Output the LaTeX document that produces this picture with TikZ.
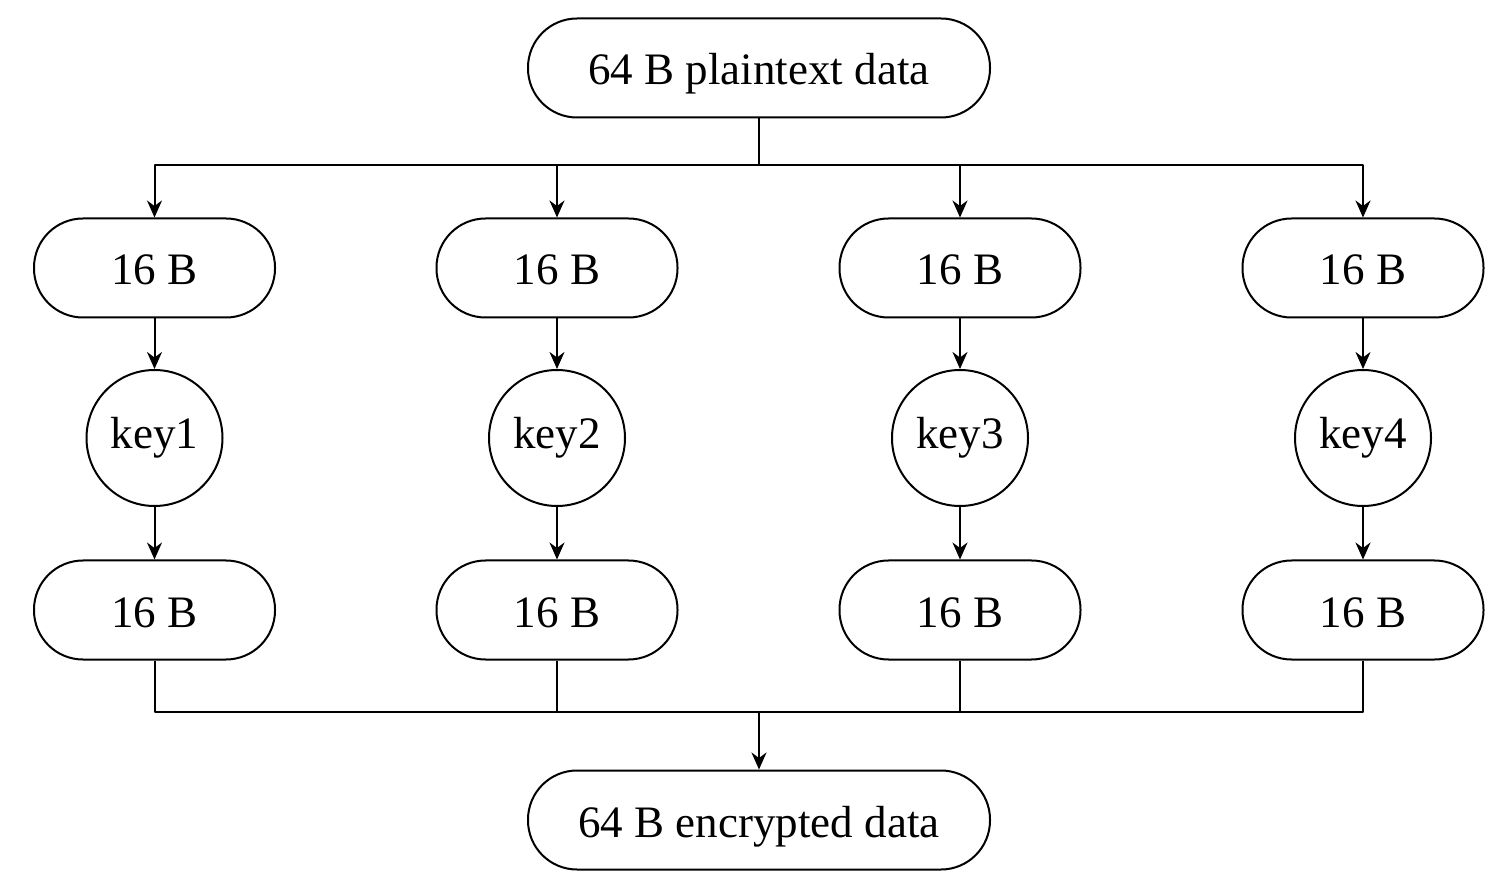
\documentclass[tikz,border=0pt]{standalone}
\usepackage{fontspec}
\setmainfont{Liberation Serif}
\usetikzlibrary{arrows.meta}
\begin{document}
\begin{tikzpicture}[>={Stealth[length=8.5pt,width=7.5pt]},line join=round,x=0.5pt,y=-0.5pt,line width=1pt,
    font=\fontsize{22.5}{27}\selectfont,
    pill/.style={draw,rounded corners=24.5pt,minimum height=49.5pt,inner sep=0pt,text height=17pt,text depth=0pt},
    keynode/.style={draw,circle,minimum size=68pt,inner sep=0pt}]
    \useasboundingbox (0,0) rectangle (1500,887);
    % top and bottom
    \node[pill,minimum width=231pt] (plain) at (759,68) {64 B plaintext data};
    \node[pill,minimum width=231pt] (enc) at (759,820) {64 B encrypted data};
    \coordinate (split) at (759,165);
    \coordinate (join) at (759,712);
    \draw (plain.south) -- (split);
    \draw[->] (join) -- (enc.north);
    % four branches
    \foreach \i/\x in {1/154.5,2/557,3/960,4/1363}{
        \node[pill,minimum width=120.5pt] (in\i) at (\x,268) {16 B};
        \node[keynode] (key\i) at (\x,438) {key\i};
        \node[pill,minimum width=120.5pt] (out\i) at (\x,610) {16 B};
        \draw[->] (split) -| (in\i.north);
        \draw[->] (in\i) -- (key\i);
        \draw[->] (key\i) -- (out\i);
        \draw (out\i.south) |- (join);
    }
\end{tikzpicture}
\end{document}
